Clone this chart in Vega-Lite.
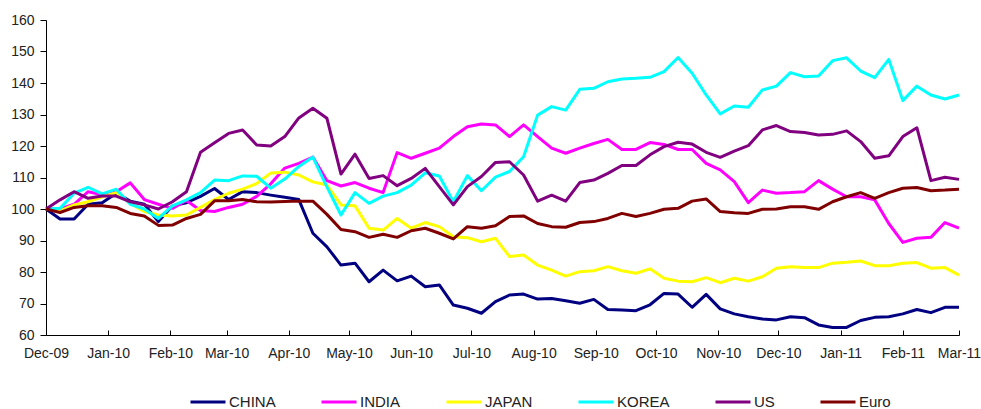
{
  "$schema": "https://vega.github.io/schema/vega-lite/v6.json",
  "width": 913,
  "height": 315,
  "autosize": {"type": "none"},
  "padding": {"left": 46, "top": 20, "right": 22, "bottom": 74},
  "background": "white",
  "config": {"view": {"stroke": null}, "font": "Liberation Sans"},
  "data": {
    "values": [
      {"d": "2009-12-01", "CHINA": 100, "INDIA": 100, "JAPAN": 100, "KOREA": 100, "US": 100, "Euro": 100},
      {"d": "2009-12-08", "CHINA": 96.8, "INDIA": 100, "JAPAN": 99.4, "KOREA": 100.2, "US": 102.9, "Euro": 98.9},
      {"d": "2009-12-15", "CHINA": 96.8, "INDIA": 101.5, "JAPAN": 101.3, "KOREA": 105, "US": 105.5, "Euro": 100.5},
      {"d": "2009-12-22", "CHINA": 101.5, "INDIA": 105.5, "JAPAN": 102.3, "KOREA": 106.9, "US": 103.4, "Euro": 101},
      {"d": "2009-12-29", "CHINA": 102, "INDIA": 104.5, "JAPAN": 103.9, "KOREA": 104.8, "US": 104.1, "Euro": 101},
      {"d": "2010-01-05", "CHINA": 105, "INDIA": 105.5, "JAPAN": 105.2, "KOREA": 106.3, "US": 104.1, "Euro": 100.5},
      {"d": "2010-01-12", "CHINA": 102.5, "INDIA": 108.3, "JAPAN": 101.8, "KOREA": 101.5, "US": 102.3, "Euro": 98.6},
      {"d": "2010-01-19", "CHINA": 101.5, "INDIA": 103, "JAPAN": 99.2, "KOREA": 100, "US": 101.3, "Euro": 97.8},
      {"d": "2010-01-26", "CHINA": 96, "INDIA": 101.5, "JAPAN": 98.1, "KOREA": 97, "US": 100, "Euro": 94.8},
      {"d": "2010-02-02", "CHINA": 101, "INDIA": 100.2, "JAPAN": 97.8, "KOREA": 101, "US": 102.3, "Euro": 94.9},
      {"d": "2010-02-09", "CHINA": 102, "INDIA": 102.7, "JAPAN": 98.1, "KOREA": 102.9, "US": 105.5, "Euro": 97},
      {"d": "2010-02-16", "CHINA": 104, "INDIA": 99.5, "JAPAN": 100.5, "KOREA": 105.2, "US": 118, "Euro": 98.3},
      {"d": "2010-02-23", "CHINA": 106.5, "INDIA": 99.2, "JAPAN": 103, "KOREA": 109.2, "US": 121, "Euro": 102.6},
      {"d": "2010-03-02", "CHINA": 103, "INDIA": 100.5, "JAPAN": 105, "KOREA": 109, "US": 124, "Euro": 102.6},
      {"d": "2010-03-09", "CHINA": 105.5, "INDIA": 101.5, "JAPAN": 106.3, "KOREA": 110.5, "US": 125.1, "Euro": 103},
      {"d": "2010-03-16", "CHINA": 105.2, "INDIA": 104, "JAPAN": 108.1, "KOREA": 110.4, "US": 120.3, "Euro": 102.3},
      {"d": "2010-03-23", "CHINA": 104.4, "INDIA": 108, "JAPAN": 111.4, "KOREA": 106.6, "US": 120, "Euro": 102.2},
      {"d": "2010-03-30", "CHINA": 103.7, "INDIA": 113, "JAPAN": 111.7, "KOREA": 109.5, "US": 123, "Euro": 102.4},
      {"d": "2010-04-06", "CHINA": 103, "INDIA": 114.5, "JAPAN": 110.8, "KOREA": 113.5, "US": 128.9, "Euro": 102.5},
      {"d": "2010-04-13", "CHINA": 92.3, "INDIA": 116.5, "JAPAN": 108.6, "KOREA": 116.5, "US": 132, "Euro": 102.5},
      {"d": "2010-04-20", "CHINA": 88, "INDIA": 109, "JAPAN": 107.6, "KOREA": 107, "US": 128.8, "Euro": 98.3},
      {"d": "2010-04-27", "CHINA": 82.2, "INDIA": 107.3, "JAPAN": 101.3, "KOREA": 98.1, "US": 111.1, "Euro": 93.5},
      {"d": "2010-05-04", "CHINA": 82.8, "INDIA": 108.4, "JAPAN": 101, "KOREA": 105.2, "US": 117.4, "Euro": 92.8},
      {"d": "2010-05-11", "CHINA": 76.9, "INDIA": 106.6, "JAPAN": 93.9, "KOREA": 101.8, "US": 109.7, "Euro": 91},
      {"d": "2010-05-18", "CHINA": 80.6, "INDIA": 105.2, "JAPAN": 93.3, "KOREA": 104.1, "US": 110.6, "Euro": 92},
      {"d": "2010-05-25", "CHINA": 77.2, "INDIA": 117.9, "JAPAN": 97, "KOREA": 105.2, "US": 107.4, "Euro": 91},
      {"d": "2010-06-01", "CHINA": 78.7, "INDIA": 116.1, "JAPAN": 93.9, "KOREA": 107.6, "US": 109.7, "Euro": 93.1},
      {"d": "2010-06-08", "CHINA": 75.3, "INDIA": 117.7, "JAPAN": 95.7, "KOREA": 111.5, "US": 112.9, "Euro": 93.9},
      {"d": "2010-06-15", "CHINA": 75.9, "INDIA": 119.3, "JAPAN": 94.4, "KOREA": 110.5, "US": 107.1, "Euro": 92.3},
      {"d": "2010-06-22", "CHINA": 69.5, "INDIA": 123, "JAPAN": 91.2, "KOREA": 102.3, "US": 101.3, "Euro": 90.5},
      {"d": "2010-06-29", "CHINA": 68.5, "INDIA": 126.1, "JAPAN": 90.9, "KOREA": 110.6, "US": 107.1, "Euro": 94.4},
      {"d": "2010-07-06", "CHINA": 66.9, "INDIA": 127, "JAPAN": 89.6, "KOREA": 105.8, "US": 110.3, "Euro": 93.9},
      {"d": "2010-07-13", "CHINA": 70.6, "INDIA": 126.7, "JAPAN": 90.7, "KOREA": 110.1, "US": 114.8, "Euro": 94.7},
      {"d": "2010-07-20", "CHINA": 72.7, "INDIA": 123, "JAPAN": 84.9, "KOREA": 111.9, "US": 115, "Euro": 97.6},
      {"d": "2010-07-27", "CHINA": 73, "INDIA": 126.7, "JAPAN": 85.4, "KOREA": 116.6, "US": 110.8, "Euro": 97.8},
      {"d": "2010-08-03", "CHINA": 71.4, "INDIA": 123, "JAPAN": 82.2, "KOREA": 129.8, "US": 102.5, "Euro": 95.4},
      {"d": "2010-08-10", "CHINA": 71.6, "INDIA": 119.3, "JAPAN": 80.6, "KOREA": 132.5, "US": 104.4, "Euro": 94.4},
      {"d": "2010-08-17", "CHINA": 70.9, "INDIA": 117.7, "JAPAN": 78.7, "KOREA": 131.4, "US": 102.5, "Euro": 94.2},
      {"d": "2010-08-24", "CHINA": 70.1, "INDIA": 119.3, "JAPAN": 80.1, "KOREA": 138, "US": 108.4, "Euro": 95.7},
      {"d": "2010-08-31", "CHINA": 71.3, "INDIA": 120.8, "JAPAN": 80.4, "KOREA": 138.3, "US": 109.2, "Euro": 96},
      {"d": "2010-09-07", "CHINA": 68.1, "INDIA": 122.1, "JAPAN": 81.7, "KOREA": 140.4, "US": 111.3, "Euro": 97},
      {"d": "2010-09-14", "CHINA": 67.9, "INDIA": 118.9, "JAPAN": 80.4, "KOREA": 141.3, "US": 113.8, "Euro": 98.6},
      {"d": "2010-09-21", "CHINA": 67.7, "INDIA": 118.9, "JAPAN": 79.6, "KOREA": 141.5, "US": 113.8, "Euro": 97.6},
      {"d": "2010-09-28", "CHINA": 69.6, "INDIA": 121.1, "JAPAN": 81, "KOREA": 141.8, "US": 117.2, "Euro": 98.6},
      {"d": "2010-10-05", "CHINA": 73.2, "INDIA": 120.5, "JAPAN": 78, "KOREA": 143.6, "US": 119.8, "Euro": 99.9},
      {"d": "2010-10-12", "CHINA": 73, "INDIA": 118.9, "JAPAN": 77.1, "KOREA": 148.1, "US": 121.2, "Euro": 100.2},
      {"d": "2010-10-19", "CHINA": 68.8, "INDIA": 118.9, "JAPAN": 76.9, "KOREA": 143.1, "US": 120.6, "Euro": 102.5},
      {"d": "2010-10-26", "CHINA": 72.9, "INDIA": 114.5, "JAPAN": 78.2, "KOREA": 136.2, "US": 118, "Euro": 103.2},
      {"d": "2010-11-02", "CHINA": 68.3, "INDIA": 112.4, "JAPAN": 76.6, "KOREA": 130.2, "US": 116.4, "Euro": 99.2},
      {"d": "2010-11-09", "CHINA": 66.7, "INDIA": 108.7, "JAPAN": 78, "KOREA": 132.7, "US": 118.4, "Euro": 98.8},
      {"d": "2010-11-16", "CHINA": 65.8, "INDIA": 102, "JAPAN": 77.1, "KOREA": 132.3, "US": 120.1, "Euro": 98.6},
      {"d": "2010-11-23", "CHINA": 65.1, "INDIA": 106, "JAPAN": 78.5, "KOREA": 137.8, "US": 125.1, "Euro": 99.9},
      {"d": "2010-11-30", "CHINA": 64.8, "INDIA": 105, "JAPAN": 81.2, "KOREA": 139, "US": 126.5, "Euro": 100},
      {"d": "2010-12-07", "CHINA": 65.8, "INDIA": 105.2, "JAPAN": 81.7, "KOREA": 143.3, "US": 124.6, "Euro": 100.7},
      {"d": "2010-12-14", "CHINA": 65.5, "INDIA": 105.5, "JAPAN": 81.4, "KOREA": 142, "US": 124.3, "Euro": 100.7},
      {"d": "2010-12-21", "CHINA": 63.2, "INDIA": 109, "JAPAN": 81.4, "KOREA": 142.2, "US": 123.5, "Euro": 99.9},
      {"d": "2010-12-28", "CHINA": 62.4, "INDIA": 106.3, "JAPAN": 82.8, "KOREA": 147.1, "US": 123.7, "Euro": 102.3},
      {"d": "2011-01-04", "CHINA": 62.4, "INDIA": 103.9, "JAPAN": 83.1, "KOREA": 148, "US": 124.8, "Euro": 103.9},
      {"d": "2011-01-11", "CHINA": 64.6, "INDIA": 103.9, "JAPAN": 83.5, "KOREA": 143.8, "US": 121.4, "Euro": 105.2},
      {"d": "2011-01-18", "CHINA": 65.6, "INDIA": 102.9, "JAPAN": 82, "KOREA": 141.7, "US": 116.1, "Euro": 103.4},
      {"d": "2011-01-25", "CHINA": 65.8, "INDIA": 95.4, "JAPAN": 82, "KOREA": 147.5, "US": 116.9, "Euro": 105.2},
      {"d": "2011-02-01", "CHINA": 66.7, "INDIA": 89.4, "JAPAN": 82.8, "KOREA": 134.4, "US": 123, "Euro": 106.6},
      {"d": "2011-02-08", "CHINA": 68.1, "INDIA": 90.7, "JAPAN": 83, "KOREA": 139, "US": 125.8, "Euro": 106.8},
      {"d": "2011-02-15", "CHINA": 67.1, "INDIA": 91, "JAPAN": 81.2, "KOREA": 136.2, "US": 109, "Euro": 105.8},
      {"d": "2011-02-22", "CHINA": 68.8, "INDIA": 95.7, "JAPAN": 81.4, "KOREA": 134.9, "US": 110.1, "Euro": 106},
      {"d": "2011-03-01", "CHINA": 68.8, "INDIA": 93.9, "JAPAN": 79, "KOREA": 136.2, "US": 109.4, "Euro": 106.3}
    ]
  },
  "transform": [
    {"fold": ["CHINA", "INDIA", "JAPAN", "KOREA", "US", "Euro"], "as": ["series", "value"]}
  ],
  "mark": {"type": "line", "strokeWidth": 3, "strokeJoin": "round"},
  "encoding": {
    "x": {
      "field": "d",
      "type": "temporal",
      "scale": {
        "type": "utc",
        "nice": false,
        "domain": [
          {"year": 2009, "month": 12, "date": 1, "utc": true},
          {"year": 2011, "month": 3, "date": 1, "utc": true}
        ]
      },
      "axis": {
        "title": null,
        "format": "%b-%y",
        "tickCount": {"interval": "month", "step": 1},
        "grid": false,
        "domainColor": "#000",
        "domainWidth": 1,
        "tickColor": "#000",
        "tickSize": -5,
        "labelPadding": 16,
        "labelColor": "#222",
        "labelFontSize": 14,
        "labelFlush": false,
        "labelOverlap": false
      }
    },
    "y": {
      "field": "value",
      "type": "quantitative",
      "scale": {"domain": [60, 160], "nice": false, "zero": false},
      "axis": {
        "title": null,
        "values": [60, 70, 80, 90, 100, 110, 120, 130, 140, 150, 160],
        "grid": false,
        "domainColor": "#000",
        "tickColor": "#000",
        "tickSize": 6,
        "labelPadding": 6,
        "labelColor": "#222",
        "labelFontSize": 14
      }
    },
    "color": {
      "field": "series",
      "type": "nominal",
      "sort": ["CHINA", "INDIA", "JAPAN", "KOREA", "US", "Euro"],
      "scale": {
        "domain": ["CHINA", "INDIA", "JAPAN", "KOREA", "US", "Euro"],
        "range": ["#000080", "#ff00ff", "#ffff00", "#00ffff", "#800080", "#800000"]
      },
      "legend": {
        "title": null,
        "orient": "none",
        "legendX": 143,
        "legendY": 363,
        "direction": "horizontal",
        "columns": 6,
        "symbolType": "stroke",
        "symbolSize": 1225,
        "symbolStrokeWidth": 3,
        "symbolOffset": 0,
        "labelOffset": 2,
        "labelFontSize": 15,
        "labelColor": "#222",
        "columnPadding": 39,
        "padding": 0
      }
    }
  }
}
